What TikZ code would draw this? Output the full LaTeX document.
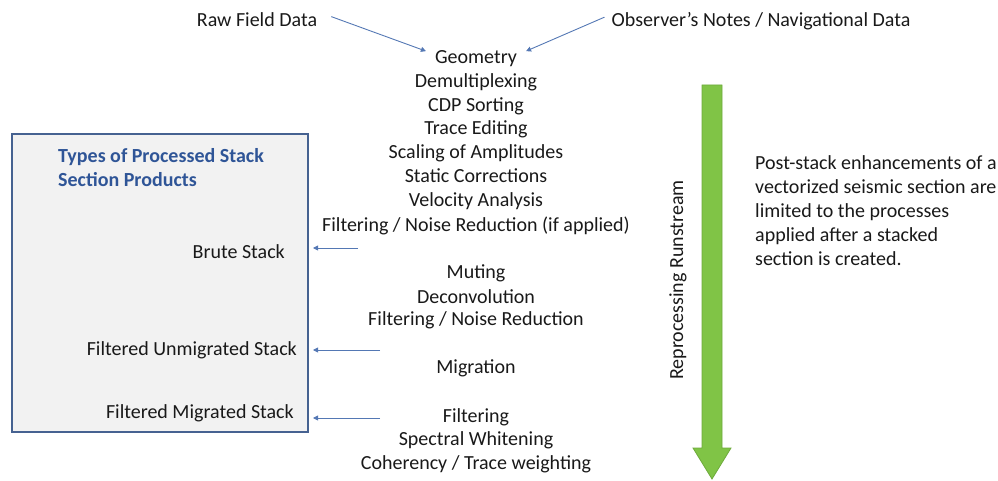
\documentclass[tikz,border=0pt]{standalone}
\usepackage{fontspec}
\setmainfont{Carlito}
\usetikzlibrary{arrows.meta,calc}
\definecolor{txt}{RGB}{25,25,25}
\definecolor{arrowblue}{RGB}{84,120,180}
\definecolor{boxline}{RGB}{70,98,145}
\definecolor{boxfill}{RGB}{242,242,242}
\definecolor{titleblue}{RGB}{47,85,151}
\definecolor{greenfill}{RGB}{128,196,70}
\definecolor{greenline}{RGB}{110,170,60}
\begin{document}
\begin{tikzpicture}[x=1pt,y=-1pt,
  font=\fontsize{20}{24}\selectfont,
  lbl/.style={text=txt, inner sep=0pt, anchor=base},
  conn/.style={draw=arrowblue, line width=0.9pt, -{Triangle[length=5pt,width=5pt]}}]
\useasboundingbox (0,0) rectangle (998,481);
% product box
\node[draw=boxline, line width=2pt, fill=boxfill, minimum width=296pt, minimum height=297pt, inner sep=0pt] (box) at (160,283) {};
\node[lbl, anchor=base west, text=titleblue, font=\fontsize{20}{24}\selectfont\bfseries] (t1) at (58,162.5) {Types of Processed Stack};
\node[lbl, anchor=base west, text=titleblue, font=\fontsize{20}{24}\selectfont\bfseries] (t2) at (58,186.5) {Section Products};
\node[lbl, anchor=base east] (brute) at (285,258.5) {Brute Stack};
\node[lbl, anchor=base east] (unmig) at (297,355.5) {Filtered Unmigrated Stack};
\node[lbl, anchor=base east] (mig) at (294,418.5) {Filtered Migrated Stack};
% inputs
\node[lbl] (raw) at (257,26.5) {Raw Field Data};
\node[lbl] (obs) at (761,26.5) {Observer’s Notes / Navigational Data};
% processing steps
\node[lbl] (geo) at (476,63.5) {Geometry};
\node[lbl] (demux) at (476,87.5) {Demultiplexing};
\node[lbl] (cdp) at (476,111.5) {CDP Sorting};
\node[lbl] (edit) at (476,135) {Trace Editing};
\node[lbl] (scal) at (476,159) {Scaling of Amplitudes};
\node[lbl] (stat) at (476,183) {Static Corrections};
\node[lbl] (vel) at (476,207) {Velocity Analysis};
\node[lbl] (filt1) at (476,231) {Filtering / Noise Reduction (if applied)};
\node[lbl] (mut) at (476,278.5) {Muting};
\node[lbl] (decon) at (476,303) {Deconvolution};
\node[lbl] (filt2) at (476,325.5) {Filtering / Noise Reduction};
\node[lbl] (migr) at (476,373.5) {Migration};
\node[lbl] (filt3) at (476,422.5) {Filtering};
\node[lbl] (spec) at (476,445.5) {Spectral Whitening};
\node[lbl] (coh) at (476,469.5) {Coherency / Trace weighting};
% input arrows
\draw[conn] ($(raw.east)+(14,-3)$) -- ($(geo.west)+(-9,-7.5)$);
\draw[conn] ($(obs.west)+(-7,-4)$) -- ($(geo.east)+(9,-7.5)$);
% product arrows
\coordinate (a1) at (358,248);
\coordinate (a2) at (380,350);
\coordinate (a3) at (380,418);
\draw[conn, shorten >=4pt] (a1) -- (a1 -| box.east);
\draw[conn, shorten >=4pt] (a2) -- (a2 -| box.east);
\draw[conn, shorten >=4pt] (a3) -- (a3 -| box.east);
% green runstream arrow
\draw[draw=greenline, fill=greenfill, line width=0.8pt]
  (702,85) -- (722,85) -- (722,448) -- (731,448) -- (712,479) -- (693,448) -- (702,448) -- cycle;
\node[text=txt, inner sep=0pt, rotate=90] (run) at (678,280) {Reprocessing Runstream};
% note
\node[lbl, anchor=base west] (n1) at (755,169.5) {Post-stack enhancements of a};
\node[lbl, anchor=base west] (n2) at (755,193.5) {vectorized seismic section are};
\node[lbl, anchor=base west] (n3) at (755,217.5) {limited to the processes};
\node[lbl, anchor=base west] (n4) at (755,241.5) {applied after a stacked};
\node[lbl, anchor=base west] (n5) at (755,265) {section is created.};
\end{tikzpicture}
\end{document}
